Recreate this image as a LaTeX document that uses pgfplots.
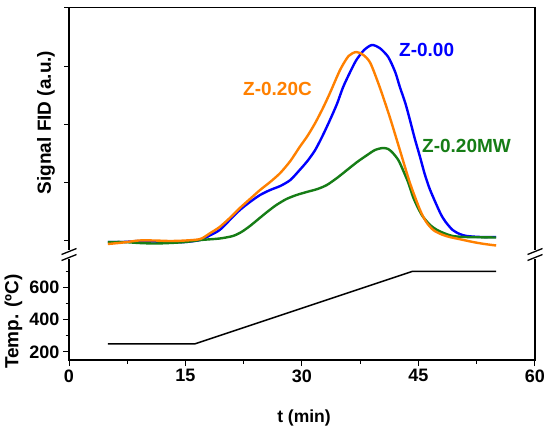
\documentclass[border=0pt]{standalone}
\usepackage{fontspec}
\setmainfont{Liberation Sans}
\usepackage{pgfplots}
\pgfplotsset{compat=1.18}
\definecolor{cBlue}{RGB}{0,0,255}
\definecolor{cOrange}{RGB}{255,128,0}
\definecolor{cGreen}{RGB}{22,125,22}
\begin{document}
\begin{tikzpicture}[x=1pt,y=1pt]
\useasboundingbox (0,0) rectangle (550,-428);
% ---------- lower panel: temperature ----------
\begin{axis}[
  at={(69pt,-360pt)}, anchor=south west,
  scale only axis, width=466pt, height=101.5pt,
  xmin=0, xmax=60, ymin=150, ymax=780,
  xtick={0,15,30,45,60}, minor xtick={7.5,22.5,37.5,52.5},
  ytick={200,400,600}, minor ytick={300,500,700},
  xticklabel={\fontsize{18}{18}\selectfont$\mathbf{\pgfmathprintnumber{\tick}}$},
  yticklabel={\fontsize{18}{18}\selectfont$\mathbf{\pgfmathprintnumber{\tick}}$},
  xtick pos=bottom, ytick pos=left, tick align=outside,
  major tick length=6pt, minor tick length=3.5pt,
  tick style={black, line width=1pt},
  axis line style={draw=none},
  clip=false,
]
\addplot[black, line width=1.5pt] coordinates {(5,250) (16.2,250) (44.2,700) (55,700)};
\draw[black, line width=1.4pt] (rel axis cs:0,1) -- (rel axis cs:0,0) -- (rel axis cs:1,0) -- (rel axis cs:1,1);
\end{axis}
% ---------- upper panel: FID signal ----------
\begin{axis}[
  at={(69pt,-250pt)}, anchor=south west,
  scale only axis, width=466pt, height=242.5pt,
  xmin=0, xmax=60, ymin=0, ymax=242.5,
  xtick=\empty,
  ytick={10,68,126,184,242}, yticklabels={},
  ytick pos=left, tick align=outside,
  major tick length=5pt,
  tick style={black, line width=1pt},
  axis line style={draw=none},
  clip=false,
]
\addplot[cBlue, line width=2.4pt, smooth, tension=0.45] coordinates {
(5,8) (7,8) (9,9) (11,8.5) (13,8) (15,8) (16.9,10) (18,14) (19.4,20) (20.7,30)
(22,40) (23.3,48) (24.6,55) (25.9,60) (27.2,64) (28.5,70) (29.7,80) (30.7,89)
(31.7,100) (32.7,115) (33.6,130) (34.5,146) (35.3,163) (36.2,178) (37,190)
(38,200) (39,205) (40,202) (41.1,193) (42,178) (42.6,163) (43.3,147) (43.9,130)
(44.5,112) (45.2,93) (45.8,76) (46.5,60) (47.8,37) (48.5,28) (49.4,20) (50.3,16)
(51.2,14) (53,13) (55,13)};
\addplot[cGreen, line width=2.4pt, smooth, tension=0.45] coordinates {
(5,8) (7,8) (9,7) (11,6.5) (13,7) (15,8) (17,10) (19.4,11.5) (21.1,14) (22.2,18)
(23.3,24) (24.4,31) (25.5,38) (26.7,45) (28,51) (29.3,55) (30.6,58) (32,61)
(33.2,65) (34.5,72) (35.8,80) (37.1,88) (38.4,95) (39.4,100) (40.4,102) (41.1,101)
(41.7,97) (42.4,90) (43,80) (43.7,67) (44.3,53) (45,41) (45.6,33) (46.5,25)
(47.4,20) (48.4,16.5) (49.4,14) (51,13) (55,12.5)};
\addplot[cOrange, line width=2.4pt, smooth, tension=0.45] coordinates {
(5,6) (7,7.5) (9,9.5) (11,9.5) (13,9) (15,9.5) (16.9,11) (18.2,17) (19.4,23)
(20.7,32) (22,42) (23.3,51) (24.6,60) (25.9,68) (27.2,77) (28.5,89) (29.7,103)
(30.7,114) (31.7,127) (32.7,142) (33.6,157) (34.9,180) (36,194) (37,198) (37.9,195)
(38.8,187) (40,163) (41.3,133) (42.6,100) (43.9,67) (45.2,40) (46,28) (46.9,20)
(48,15.5) (49,13) (50.5,10.5) (52,8) (53.5,6) (55,4.5)};
\draw[black, line width=1.4pt] (rel axis cs:0,0) -- (rel axis cs:0,1) -- (rel axis cs:1,1) -- (rel axis cs:1,0);
\end{axis}
% ---------- axis breaks ----------
\foreach \xx in {69,535} {
  \fill[white] (\xx-3,-251) rectangle (\xx+3,-257.5);
  \draw[black, line width=1.3pt] (\xx-7.5,-254.5) -- (\xx+7.5,-248.5);
  \draw[black, line width=1.3pt] (\xx-7.5,-260.5) -- (\xx+7.5,-254.5);
}
% ---------- labels ----------
\node[rotate=90, font=\fontsize{19}{19}\selectfont\bfseries] at (46,-122.5) {Signal FID (a.u.)};
\node[rotate=90, font=\fontsize{19}{19}\selectfont\bfseries] at (13.5,-321.5) {Temp. (ºC)};
\node[anchor=base, font=\fontsize{17.5}{17.5}\selectfont\bfseries] at (304,-422) {t (min)};
\node[anchor=west, text=cBlue, font=\fontsize{19}{19}\selectfont\bfseries, inner sep=0pt] at (399,-50) {Z-0.00};
\node[anchor=west, text=cOrange, font=\fontsize{19}{19}\selectfont\bfseries, inner sep=0pt] at (243,-88.5) {Z-0.20C};
\node[anchor=west, text=cGreen, font=\fontsize{19}{19}\selectfont\bfseries, inner sep=0pt] at (422,-145.5) {Z-0.20MW};
\end{tikzpicture}
\end{document}
